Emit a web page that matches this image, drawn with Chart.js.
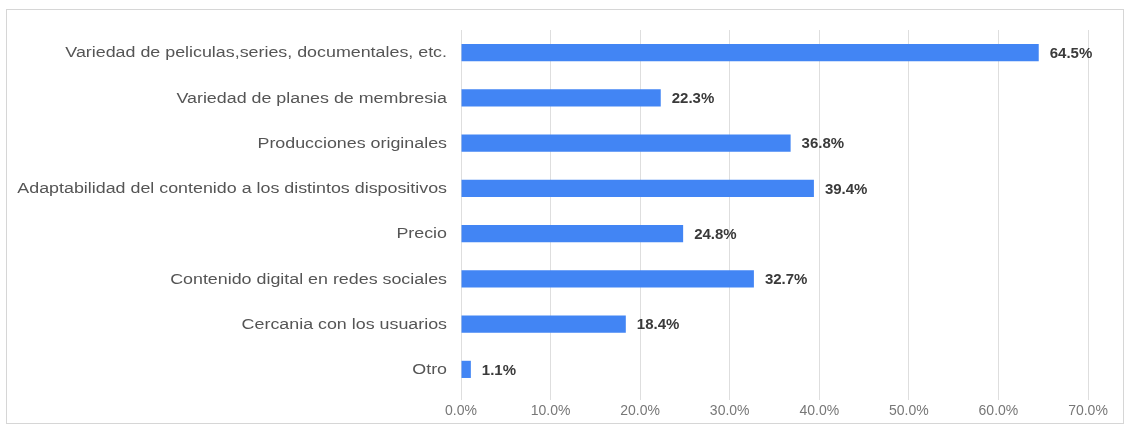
<!DOCTYPE html>
<html>
<head>
<meta charset="utf-8">
<script src="https://cdn.jsdelivr.net/npm/chart.js@4"></script>
<style>
  html, body { margin: 0; padding: 0; background: #ffffff; }
  #wrap { position: relative; width: 1130px; height: 430px; overflow: hidden; }
  #frame { position: absolute; left: 6px; top: 9px; width: 1118px; height: 415px; border: 1px solid #d6d6d6; box-sizing: border-box; }
  canvas { position: absolute; left: 0; top: 0; }
</style>
</head>
<body>
<div id="wrap">
  <div id="frame"></div>
  <canvas id="c" width="1130" height="430"></canvas>
</div>
<script>
// Survey answers: share of respondents choosing each attribute (%)
const categories = [
  'Variedad de peliculas,series, documentales, etc.',
  'Variedad de planes de membresia',
  'Producciones originales',
  'Adaptabilidad del contenido a los distintos dispositivos',
  'Precio',
  'Contenido digital en redes sociales',
  'Cercania con los usuarios',
  'Otro'
];
const shares = [64.5, 22.3, 36.8, 39.4, 24.8, 32.7, 18.4, 1.1];
const valueLabels = ['64.5%', '22.3%', '36.8%', '39.4%', '24.8%', '32.7%', '18.4%', '1.1%'];
const axisTicks = [0, 10, 20, 30, 40, 50, 60, 70];

const FONT = '"Liberation Sans", Arial, sans-serif';

// Category names, drawn in a widened face, right-aligned left of the bars
const categoryLabels = {
  id: 'categoryLabels',
  afterDraw(chart) {
    const ctx = chart.ctx;
    const yScale = chart.scales.y;
    const right = chart.chartArea.left - 14;
    ctx.save();
    ctx.font = '14px ' + FONT;
    ctx.fillStyle = '#555555';
    ctx.textAlign = 'right';
    ctx.textBaseline = 'middle';
    categories.forEach((name, i) => {
      ctx.save();
      ctx.translate(right, yScale.getPixelForTick(i) + 1);
      ctx.scale(1.275, 1);
      ctx.fillText(name, 0, 0);
      ctx.restore();
    });
    ctx.restore();
  }
};

// Writes the percentage just past the end of each bar
const barValueLabels = {
  id: 'barValueLabels',
  afterDatasetsDraw(chart) {
    const ctx = chart.ctx;
    const meta = chart.getDatasetMeta(0);
    ctx.save();
    ctx.font = 'bold 15px ' + FONT;
    ctx.fillStyle = '#3a3a3a';
    ctx.textAlign = 'left';
    ctx.textBaseline = 'middle';
    meta.data.forEach((bar, i) => {
      ctx.fillText(valueLabels[i], bar.x + 11, bar.y + 1);
    });
    ctx.restore();
  }
};

new Chart(document.getElementById('c'), {
  type: 'bar',
  data: {
    labels: categories,
    datasets: [{
      data: shares,
      backgroundColor: '#4285f4',
      borderWidth: 0,
      categoryPercentage: 1,
      barPercentage: 0.38
    }]
  },
  options: {
    indexAxis: 'y',
    responsive: false,
    animation: false,
    layout: { padding: { top: 30, right: 42, bottom: 0, left: 0 } },
    plugins: { legend: { display: false }, tooltip: { enabled: false } },
    scales: {
      x: {
        min: 0,
        max: 70,
        afterBuildTicks(axis) { axis.ticks = axisTicks.map(v => ({ value: v })); },
        afterFit(axis) { axis.height = 38; },
        grid: { color: '#dedede', tickLength: 8, drawTicks: true },
        border: { display: false },
        ticks: {
          padding: 3,
          color: '#777777',
          font: { family: FONT, size: 14 },
          callback: v => v.toFixed(1) + '%'
        }
      },
      y: {
        afterFit(axis) { axis.width = 461; },
        grid: { display: false },
        border: { display: false },
        ticks: { display: false }
      }
    }
  },
  plugins: [barValueLabels, categoryLabels]
});
</script>
</body>
</html>
